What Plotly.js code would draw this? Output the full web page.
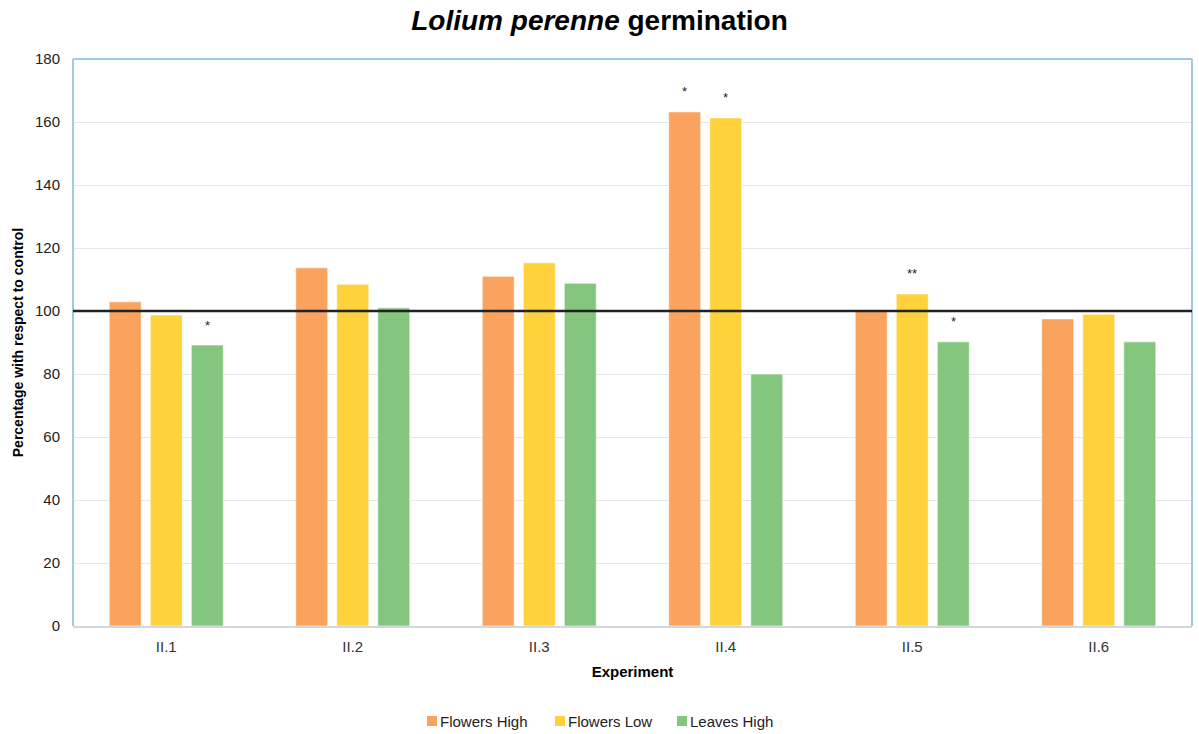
<!DOCTYPE html>
<html>
<head>
<meta charset="utf-8">
<script src="https://cdn.plot.ly/plotly-3.0.1.min.js"></script>
<style>
  html, body { margin: 0; padding: 0; background: #fff; }
  #chart { width: 1199px; height: 734px; }
</style>
</head>
<body>
<div id="chart"></div>
<script>
// Germination of Lolium perenne, as a percentage of the control
const experiments = ["II.1", "II.2", "II.3", "II.4", "II.5", "II.6"];
const flowersHigh = [102.9, 113.7, 111.0, 163.2, 100.3, 97.5];
const flowersLow  = [98.7, 108.5, 115.3, 161.3, 105.4, 99.0];
const leavesHigh  = [89.2, 101.0, 108.8, 80.0, 90.2, 90.2];

// Significance marks per series (empty = not significant)
const sigFlowersHigh = ["", "", "", "*", "", ""];
const sigFlowersLow  = ["", "", "", "*", "**", ""];
const sigLeavesHigh  = ["*", "", "", "", "*", ""];

const controlLevel = 100;

const FONT = "Liberation Sans, Arial, sans-serif";

const seriesDefs = [
  { name: "Flowers High", y: flowersHigh, sig: sigFlowersHigh, color: "#F9A35F", shift: -41 },
  { name: "Flowers Low",  y: flowersLow,  sig: sigFlowersLow,  color: "#FFD23B", shift: 0 },
  { name: "Leaves High",  y: leavesHigh,  sig: sigLeavesHigh,  color: "#84C67E", shift: 41 }
];

const traces = seriesDefs.map(s => ({
  type: "bar",
  name: s.name,
  x: experiments,
  y: s.y,
  marker: { color: s.color, line: { color: "rgba(255,255,255,0.6)", width: 1 } },
  hoverinfo: "x+y+name"
}));

// Plot-area geometry, used to place the legend keys below the axis
const M = { l: 73, r: 7, t: 59, b: 108 };
const W = 1199, H = 734;
const plotW = W - M.l - M.r, plotH = H - M.t - M.b;
const px2x = px => (px - M.l) / plotW;
const py2y = py => (H - M.b - py) / plotH;

const annotations = [];
seriesDefs.forEach(s => {
  s.y.forEach((v, i) => {
    if (s.sig[i]) {
      annotations.push({
        x: experiments[i], y: v, xref: "x", yref: "y",
        text: s.sig[i], showarrow: false,
        xshift: s.shift, yshift: 20,
        font: { family: FONT, size: 13, color: "#222" }
      });
    }
  });
});

// Legend: small colour square followed directly by its label
const legendKeyX = [427, 555, 677];
const legendY = 721;
const shapes = [
  // plot frame: left, top, right in light blue
  { type: "line", xref: "paper", yref: "paper", x0: 0, x1: 0, y0: 0, y1: 1, line: { color: "#9ccbe3", width: 2 } },
  { type: "line", xref: "paper", yref: "paper", x0: 0, x1: 1, y0: 1, y1: 1, line: { color: "#9ccbe3", width: 2 } },
  { type: "line", xref: "paper", yref: "paper", x0: 1, x1: 1, y0: 0, y1: 1, line: { color: "#9ccbe3", width: 2 } },
  // control reference line
  { type: "line", xref: "paper", yref: "y", x0: 0, x1: 1, y0: controlLevel, y1: controlLevel, line: { color: "#222", width: 2.5 }, layer: "above" }
];
seriesDefs.forEach((s, k) => {
  const kx = legendKeyX[k];
  shapes.push({
    type: "rect", xref: "paper", yref: "paper",
    x0: px2x(kx), x1: px2x(kx + 10), y0: py2y(legendY - 5), y1: py2y(legendY + 5),
    fillcolor: s.color, line: { width: 0 }
  });
  annotations.push({
    xref: "paper", yref: "paper", x: px2x(kx + 11), y: py2y(legendY),
    xanchor: "left", yanchor: "middle", showarrow: false,
    text: s.name, font: { family: FONT, size: 15, color: "#222" }
  });
});

const layout = {
  width: W, height: H,
  paper_bgcolor: "#fff", plot_bgcolor: "#fff",
  margin: M,
  font: { family: FONT, color: "#222", size: 15 },
  title: {
    text: "<i>Lolium perenne</i> germination",
    font: { size: 28, color: "#000", weight: "bold" },
    x: 0.5, xanchor: "center", y: 0.973, yanchor: "middle"
  },
  barmode: "group",
  bargap: 0.34,
  bargroupgap: 0.22,
  xaxis: {
    title: { text: "Experiment", font: { size: 15, weight: "bold", color: "#000" }, standoff: 12 },
    tickfont: { size: 15, color: "#333" },
    ticklabelstandoff: 6,
    showline: true, linecolor: "#d0d8dc", linewidth: 2,
    ticks: "", ticklen: 0
  },
  yaxis: {
    title: { text: "Percentage with respect to control", font: { size: 14, weight: "bold", color: "#000" }, standoff: 8 },
    range: [0, 180], dtick: 20,
    tickfont: { size: 15, color: "#222" },
    ticklabelstandoff: 12,
    gridcolor: "#e6e6e6", gridwidth: 1,
    zeroline: false, showline: false
  },
  shapes: shapes,
  annotations: annotations,
  showlegend: false
};

Plotly.newPlot("chart", traces, layout, { displayModeBar: false, responsive: false });
</script>
</body>
</html>
